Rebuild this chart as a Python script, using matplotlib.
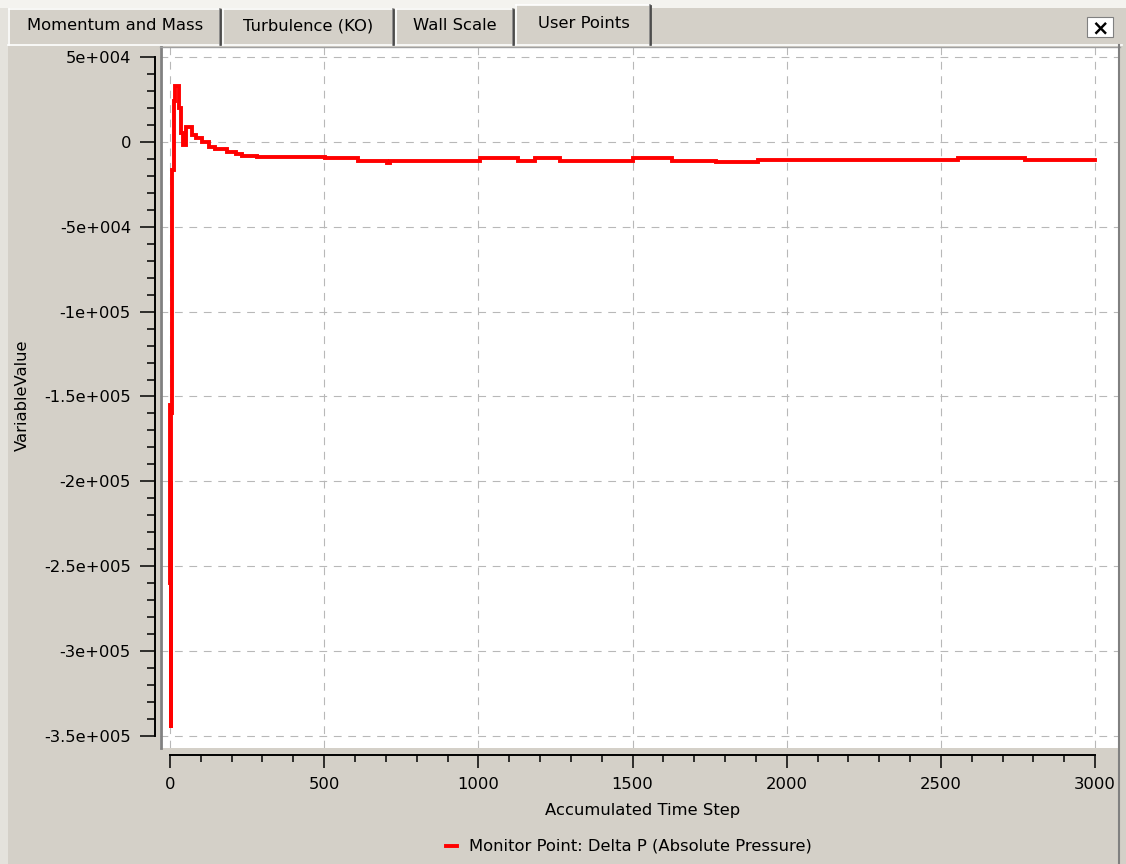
import matplotlib
matplotlib.use('agg')
import matplotlib.pyplot as plt
from matplotlib.lines import Line2D
from matplotlib.patches import Rectangle
from matplotlib.ticker import MultipleLocator, FixedLocator, FixedFormatter

# monitor data
time_step = [0, 1, 2, 3, 4, 5, 12, 16, 30, 36, 42, 52, 72, 85, 105, 125, 146, 185,
             215, 235, 282, 503, 610, 705, 715, 1005, 1130, 1185, 1265, 1502, 1628,
             1771, 1907, 2556, 2773, 3000]
delta_p = [-155000, -260000, -200000, -345000, -160000, -16500, 24000, 33000, 20000,
           5000, -1800, 8800, 4000, 2400, 0, -3000, -4100, -5900, -7100, -8200, -8800,
           -9600, -11000, -12500, -11000, -9600, -11000, -9600, -11000, -9600, -11000,
           -12000, -10900, -9400, -10800, -10800]

ytick_vals = [50000, 0, -50000, -100000, -150000, -200000, -250000, -300000, -350000]
ytick_labels = ['5e+004', '0', '-5e+004', '-1e+005', '-1.5e+005', '-2e+005',
                '-2.5e+005', '-3e+005', '-3.5e+005']
xtick_vals = [0, 500, 1000, 1500, 2000, 2500, 3000]
tab_names = ['Momentum and Mass', 'Turbulence (KO)', 'Wall Scale', 'User Points']

W, H = 1126, 864
BG = '#D4D0C8'
plt.rcParams['font.family'] = ['DejaVu Sans']

fig = plt.figure(figsize=(W / 100, H / 100), dpi=100, facecolor=BG)


def fx(x):
    return x / W


def fy(y):
    return 1 - y / H


def hline(x0, x1, y, c, lw=1.0):
    fig.add_artist(Line2D([fx(x0), fx(x1)], [fy(y), fy(y)], color=c, lw=lw,
                          transform=fig.transFigure))


def vline(x, y0, y1, c, lw=1.0):
    fig.add_artist(Line2D([fx(x), fx(x)], [fy(y0), fy(y1)], color=c, lw=lw,
                          transform=fig.transFigure))


# window chrome
fig.add_artist(Rectangle((0, 0), fx(8), 1, transform=fig.transFigure,
                         facecolor='#E4E2DC', edgecolor='none', zorder=0))
fig.add_artist(Rectangle((0, fy(8)), 1, 1 - fy(8), transform=fig.transFigure,
                         facecolor='#F4F3EF', edgecolor='none', zorder=0))
hline(8, 1122, 45, '#FFFFFF', 1.2)

# tabs
tab_edges = [(8, 222), (222, 395), (395, 515), (515, 652)]
for i, (name, (x0, x1)) in enumerate(zip(tab_names, tab_edges)):
    sel = i == len(tab_names) - 1
    top = 5 if sel else 9
    fig.add_artist(Rectangle((fx(x0), fy(45)), fx(x1 - x0), fy(top) - fy(45),
                             transform=fig.transFigure, facecolor=BG,
                             edgecolor='none', zorder=1))
    hline(x0 + 1, x1 - 2, top, '#FFFFFF', 1.2)
    vline(x0 + 1, top, 45, '#FFFFFF', 1.2)
    vline(x1 - 2, top, 45, '#808080', 1.2)
    vline(x1 - 1, top + 1, 45, '#404040', 1.2)
    fig.text(fx((x0 + x1) / 2), fy(24 if sel else 26), name, ha='center',
             va='center', fontsize=11.8, color='black')

# close button
fig.add_artist(Rectangle((fx(1087), fy(37)), fx(26), fy(17) - fy(37),
                         transform=fig.transFigure, facecolor='white',
                         edgecolor='#808080', lw=0.8, zorder=2))
fig.text(fx(1100), fy(28), '×', ha='center', va='center', fontsize=15,
         fontweight='bold', color='black')

# plot area
ax = fig.add_axes([fx(160), fy(748), fx(1120 - 160), fy(47) - fy(748)])
ax.set_facecolor('white')
ax.set_xlim(-32.4, 3081)
ax.set_ylim(-357070, 55890)

ax.plot(time_step, delta_p, color='#FF0000', lw=2.8, drawstyle='steps-post',
        solid_joinstyle='miter', zorder=3)

for s in ['top', 'right']:
    ax.spines[s].set_visible(False)
ax.spines['left'].set_position(('outward', 3.6))
ax.spines['bottom'].set_position(('outward', 5.0))
ax.spines['left'].set_bounds(-350000, 50000)
ax.spines['bottom'].set_bounds(0, 3000)
for s in ['left', 'bottom']:
    ax.spines[s].set_linewidth(1.4)
    ax.spines[s].set_color('black')

ax.yaxis.set_major_locator(FixedLocator(ytick_vals))
ax.yaxis.set_major_formatter(FixedFormatter(ytick_labels))
ax.yaxis.set_minor_locator(MultipleLocator(10000))
ax.xaxis.set_major_locator(FixedLocator(xtick_vals))
ax.xaxis.set_minor_locator(MultipleLocator(100))
ax.tick_params(axis='y', which='major', length=10.8, width=1.1, pad=6.5,
               labelsize=11.8)
ax.tick_params(axis='y', which='minor', length=5.8, width=1.1)
ax.tick_params(axis='x', which='major', length=9.4, width=1.1, pad=6.5,
               labelsize=11.8)
ax.tick_params(axis='x', which='minor', length=5.0, width=1.1)

ax.grid(True, which='major', color='#B8B8B8', lw=0.8, linestyle=(0, (7, 6)))
ax.set_axisbelow(True)

# panel frame
vline(161, 47, 748, '#808080', 2.0)
hline(160, 1120, 47, '#A0A0A0', 1.0)
vline(1119, 45, 864, '#808080', 1.5)

fig.text(fx(643), fy(811), 'Accumulated Time Step', ha='center', va='center',
         fontsize=11.8)
fig.text(fx(22), fy(395), 'VariableValue', ha='center', va='center',
         rotation=90, fontsize=11.8)

# legend
hline(446, 457, 846, '#FF0000', 2.8)
fig.text(fx(469), fy(846), 'Monitor Point: Delta P (Absolute Pressure)',
         ha='left', va='center', fontsize=11.8)

fig.savefig('out.png', dpi=100, facecolor=BG)
